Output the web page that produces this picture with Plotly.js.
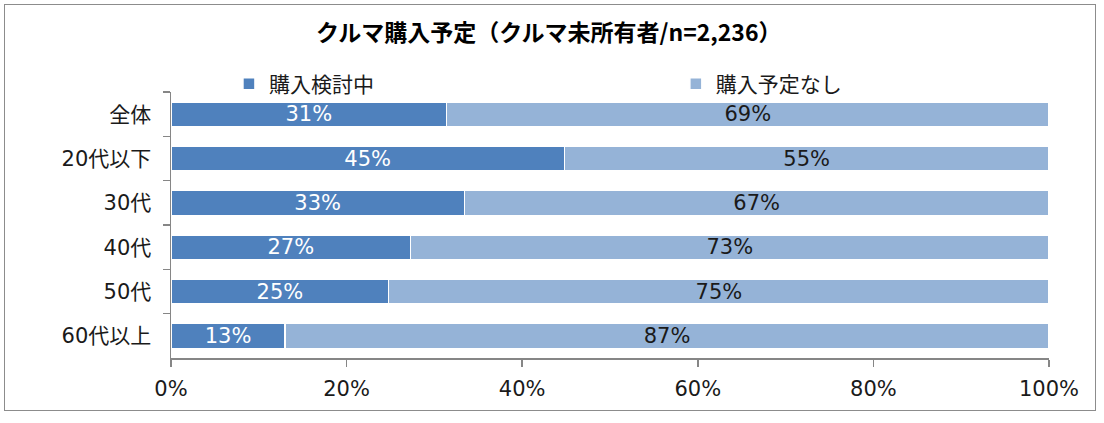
<!DOCTYPE html>
<html>
<head>
<meta charset="utf-8">
<script src="https://cdn.plot.ly/plotly-3.0.1.min.js"></script>
<style>
html,body{margin:0;padding:0;background:#fff;}
#wrap{position:relative;width:1104px;height:423px;}
#chart{width:1104px;height:423px;}
#frame{position:absolute;left:4px;top:4px;width:1090px;height:405px;border:1px solid #8c8c8c;pointer-events:none;}
</style>
</head>
<body>
<div id="wrap"><div id="chart"></div><div id="frame"></div></div>
<script>
const categories = ['全体', '20代以下', '30代', '40代', '50代', '60代以上'];
const seriesNames = ['購入検討中', '購入予定なし'];
const considering = [31.4, 44.8, 33.4, 27.3, 24.8, 13.0];
const noPlan = [68.6, 55.2, 66.6, 72.7, 75.2, 87.0];
const xTickVals = [0, 20, 40, 60, 80, 100];
const xTickText = ['0%', '20%', '40%', '60%', '80%', '100%'];
const titleText = 'クルマ購入予定（クルマ未所有者/n=2,236）';

const FONT = '"DejaVu Sans", "Noto Sans CJK JP", sans-serif';
const TFONT = '"Noto Sans CJK JP", "DejaVu Sans", sans-serif';

const traces = [
  {
    type: 'bar', orientation: 'h', name: seriesNames[0], legend: 'legend',
    y: categories, x: considering,
    marker: {color: '#4F81BD', line: {color: '#ffffff', width: 1.5}},
    texttemplate: '%{x:.0f}%', textposition: 'inside', insidetextanchor: 'middle',
    textangle: 0, constraintext: 'none',
    insidetextfont: {color: '#ffffff', size: 21, family: FONT},
    hoverinfo: 'skip'
  },
  {
    type: 'bar', orientation: 'h', name: seriesNames[1], legend: 'legend2',
    y: categories, x: noPlan,
    marker: {color: '#95B3D7', line: {color: '#ffffff', width: 1.5}},
    texttemplate: '%{x:.0f}%', textposition: 'inside', insidetextanchor: 'middle',
    textangle: 0, constraintext: 'none',
    insidetextfont: {color: '#1a1a1a', size: 21, family: FONT},
    hoverinfo: 'skip'
  }
];

const legendBase = {orientation: 'h', xanchor: 'left', y: 1.03, yanchor: 'middle',
  font: {size: 21, family: TFONT, color: '#1a1a1a'}, itemwidth: 30,
  bgcolor: 'rgba(0,0,0,0)'};

const layout = {
  width: 1104, height: 423,
  margin: {l: 171, r: 55, t: 92, b: 65, pad: 0},
  paper_bgcolor: '#ffffff', plot_bgcolor: '#ffffff',
  font: {family: FONT, color: '#1a1a1a', size: 21},
  barmode: 'stack', bargap: 0.44,
  showlegend: true,
  title: {text: '<b>' + titleText + '</b>', x: 0.497, xanchor: 'center', y: 0.922, yanchor: 'middle',
          font: {size: 23, family: TFONT, color: '#000000'}},
  legend: Object.assign({}, legendBase, {x: 0.066}),
  legend2: Object.assign({}, legendBase, {x: 0.575}),
  xaxis: {
    range: [0, 100], tickvals: xTickVals, ticktext: xTickText,
    showgrid: false, zeroline: false, showline: true, linecolor: '#868686', linewidth: 1.5,
    ticks: 'outside', ticklen: 7, tickcolor: '#868686', tickwidth: 1.5,
    ticklabelstandoff: 4,
    tickfont: {size: 21, family: FONT, color: '#1a1a1a'}, fixedrange: true
  },
  yaxis: {
    type: 'category', autorange: 'reversed',
    showgrid: false, zeroline: false, showline: true, linecolor: '#868686', linewidth: 1.5,
    ticks: 'outside', tickson: 'boundaries', ticklen: 7, tickcolor: '#868686', tickwidth: 1.5,
    ticklabelstandoff: 14,
    tickfont: {size: 21, family: FONT, color: '#1a1a1a'}, fixedrange: true
  }
};

Plotly.newPlot('chart', traces, layout, {displayModeBar: false, staticPlot: true});
</script>
</body>
</html>
